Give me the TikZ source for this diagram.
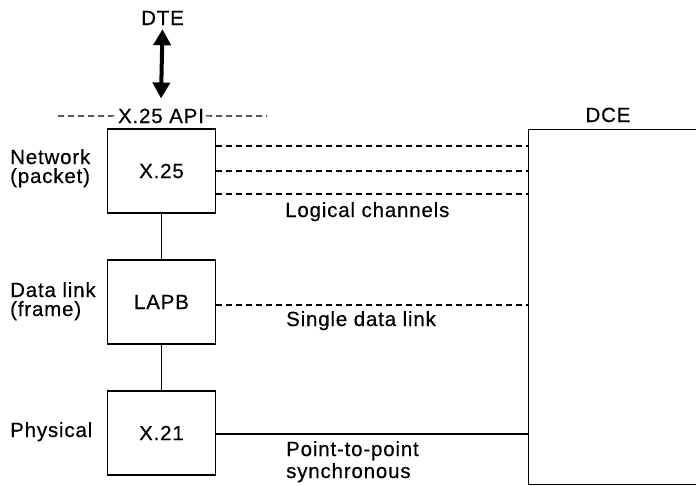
\documentclass[tikz,border=0pt]{standalone}
\usepackage{fontspec}
\setmainfont{Liberation Sans}[LetterSpace=4,FakeBold=0.4]
\usetikzlibrary{arrows.meta}
\begin{document}
\begin{tikzpicture}[x=1pt,y=-1pt,
  lbl/.style={font=\fontsize{20.5}{20.5}\selectfont, inner sep=0pt, anchor=base},
  lblw/.style={lbl, anchor=base west},
  layer/.style={draw, line width=1.1pt, minimum width=108pt, minimum height=84pt, font=\fontsize{20.5}{20.5}\selectfont, inner sep=0pt},
  dsh/.style={line width=1.1pt, dash pattern=on 6pt off 4pt},
  ln/.style={line width=1.1pt},
  bigarrow/.style={line width=4pt, {Triangle[length=16pt,width=17pt]}-{Triangle[length=16pt,width=17pt]}}]
\useasboundingbox (0,0) rectangle (696,485);

% layer boxes
\node[layer] (x25) at (161.5,171) {X.25};
\node[layer] (lapb) at (161.5,302) {LAPB};
\node[layer] (x21) at (161.5,433) {X.21};

% DCE box (runs off the right edge)
\node[draw, ln, anchor=north west, minimum width=200pt, minimum height=355pt, inner sep=0pt] (dce) at (528,129) {};
\node[lbl] (dcelbl) at (608,122) {DCE};

% DTE and API
\node[lbl] (dte) at (162.5,25) {DTE};
\node[lbl] (api) at (161,123) {X.25 API};
\draw[bigarrow] ([yshift=-4pt]dte.south) -- ([yshift=10pt]api.north);
\coordinate (apil) at (58,116);
\coordinate (apir) at (267,116);
\draw[dsh] (apil) -- ([xshift=-2pt]api.west);
\draw[dsh] ([xshift=2pt]api.east) -- (apir);

% vertical connectors
\draw[ln] (x25) -- (lapb);
\draw[ln] (lapb) -- (x21);

% channels
\draw[dsh] (x25.east |- 0,146) -- (dce.west |- 0,146);
\draw[dsh] (x25.east |- 0,171) -- (dce.west |- 0,171);
\draw[dsh] (x25.east |- 0,194) -- (dce.west |- 0,194);
\draw[dsh] (lapb.east |- 0,305) -- (dce.west |- 0,305);
\draw[ln] (x21.east |- 0,434) -- (dce.west |- 0,434);

% connector labels
\node[lblw] (lc) at (285,217) {Logical channels};
\node[lblw] (sdl) at (286,326) {Single data link};
\node[lblw] (ptp1) at (286,456) {Point-to-point};
\node[lblw] (ptp2) at (286,478) {synchronous};

% layer names
\node[lblw] (net1) at (10,164) {Network};
\node[lblw] (net2) at (10,183) {(packet)};
\node[lblw] (dl1) at (10,297) {Data link};
\node[lblw] (dl2) at (10,316) {(frame)};
\node[lblw] (phy) at (10,437) {Physical};
\end{tikzpicture}
\end{document}
